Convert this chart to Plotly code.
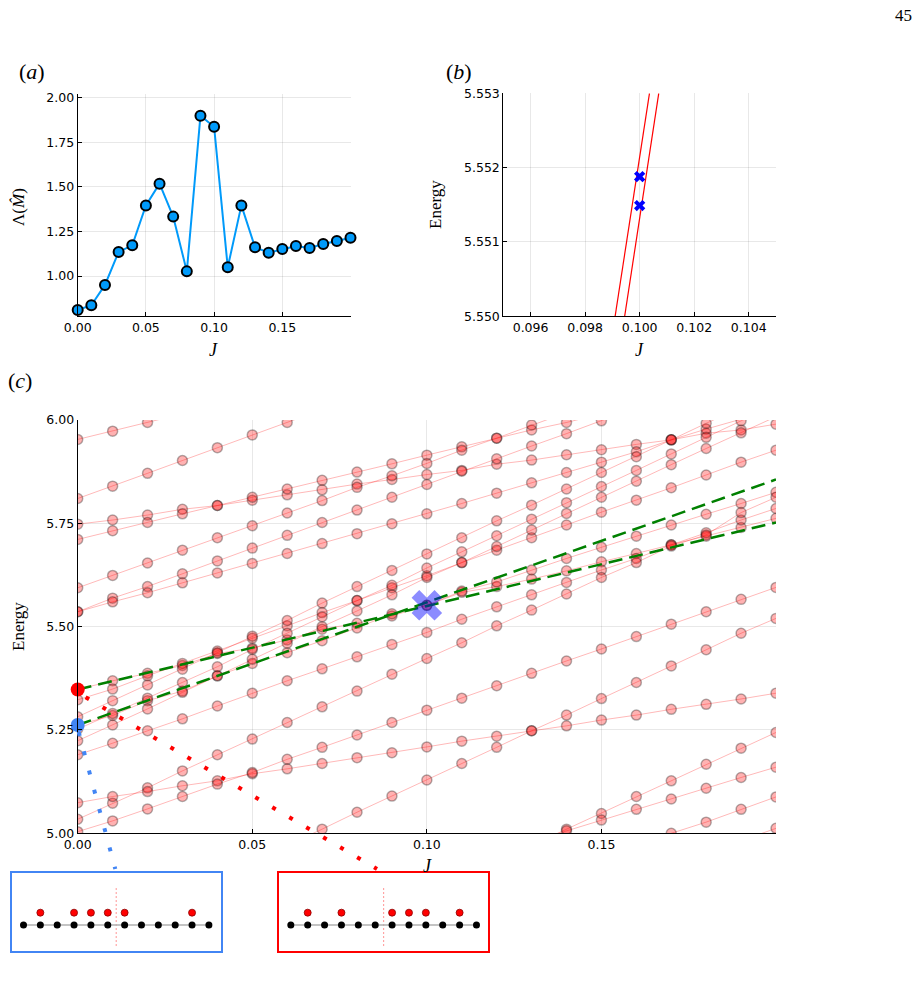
import plotly.graph_objects as go

W, H = 920, 985


def px(x):
    return x / W


def py(y):
    return 1 - y / H


# ---------------- Panel (a) data ----------------
J_a = [0.00, 0.01, 0.02, 0.03, 0.04, 0.05, 0.06, 0.07, 0.08, 0.09, 0.10,
       0.11, 0.12, 0.13, 0.14, 0.15, 0.16, 0.17, 0.18, 0.19, 0.20]
lambda_M = [0.809, 0.836, 0.950, 1.135, 1.172, 1.396, 1.518, 1.333, 1.026, 1.899, 1.837,
            1.049, 1.396, 1.161, 1.131, 1.151, 1.168, 1.157, 1.179, 1.196, 1.215]

# ---------------- Panel (b) data ----------------
J_b_line1 = [0.09910, 0.10036]
E_b_line1 = [5.550, 5.553]
J_b_line2 = [0.09945, 0.10070]
E_b_line2 = [5.550, 5.553]
J_b_cross = [0.100, 0.100]
E_b_cross = [5.55188, 5.55149]

# ---------------- Panel (c) data ----------------
J_c = [0.00, 0.01, 0.02, 0.03, 0.04, 0.05, 0.06, 0.07, 0.08, 0.09, 0.10,
       0.11, 0.12, 0.13, 0.14, 0.15, 0.16, 0.17, 0.18, 0.19, 0.20]
N = None
levels = [
    [5.953, 5.973, 5.994, 6.015],
    [5.810, 5.840, 5.871, 5.902, 5.933, 5.964, 5.994, 6.025],
    [5.748, 5.758, 5.770, 5.784, 5.793, 5.806, 5.819, 5.831, 5.845, 5.856, 5.868,
     5.878, 5.893, 5.903, 5.916, 5.928, 5.941, 5.952, 5.968, 5.976, 5.990],
    [5.711, 5.732, 5.752, 5.773, 5.793, 5.813, 5.833, 5.854, 5.874, 5.894, 5.915,
     5.935, 5.956, 5.976, 5.994, 6.015],
    [5.594, 5.624, 5.654, 5.685, 5.715, 5.744, 5.775, 5.805, 5.837, 5.865, 5.895,
     5.927, 5.956, 5.988, 6.018],
    [5.536, 5.569, 5.597, 5.628, 5.659, 5.690, 5.721, 5.752, 5.782, 5.813, 5.844,
     5.876, 5.906, 5.937, 5.967, 5.998, 6.030],
    [5.536, 5.560, 5.582, 5.606, 5.630, 5.653, 5.677, 5.701, 5.725, 5.749, 5.773,
     5.798, 5.823, 5.848, 5.873, 5.898, 5.923, 5.952, 5.978, 6.002],
    [5.348, 5.369, 5.387, 5.406, 5.435, 5.448, 5.468, 5.494, 5.508, 5.526, 5.5515,
     5.583, 5.597, 5.615, 5.635, 5.657, 5.677, 5.698, 5.719, 5.740, 5.762],
    [5.262, 5.285, 5.321, 5.344, 5.381, 5.411, 5.437, 5.466, 5.497, 5.531, 5.5519,
     5.586, 5.608, 5.637, 5.665, 5.692, 5.719, 5.746, 5.772, 5.798, 5.825],
    [5.323, 5.349, 5.381, 5.411, 5.441, 5.472, 5.502, 5.534, 5.563, 5.594, 5.623,
     5.655, 5.685, 5.715, 5.746, 5.777, 5.806, 5.836, 5.867, 5.898, 5.927],
    [5.224, 5.262, 5.301, 5.341, 5.381, 5.421, 5.460, 5.500, 5.538, 5.577, 5.619,
     5.655, 5.694, 5.734, 5.774, 5.813, 5.852, 5.892, 5.931, 5.969, 6.008],
    [5.252, 5.290, 5.327, 5.365, 5.403, 5.445, 5.484, 5.524, 5.563, 5.600, 5.642,
     5.681, 5.720, 5.760, 5.800, 5.839, 5.878, 5.918, 5.958, 5.998, 6.038],
    [5.282, 5.321, 5.359, 5.397, 5.437, 5.477, 5.515, 5.557, 5.597, 5.636, 5.676,
     5.715, 5.756, 5.794, 5.833, 5.873, 5.911, 5.952, 5.992, 6.030, 6.070],
    [5.190, 5.218, 5.248, 5.277, 5.308, 5.339, 5.369, 5.398, 5.427, 5.457, 5.486,
     5.518, 5.548, 5.577, 5.607, 5.637, 5.665, 5.698, 5.727, 5.758, 5.786],
    [5.034, 5.073, 5.110, 5.151, 5.190, 5.228, 5.268, 5.306, 5.344, 5.385, 5.423,
     5.461, 5.502, 5.540, 5.579, 5.619, 5.655, 5.695, 5.722, 5.776, 5.813],
    [5.074, 5.089, 5.101, 5.115, 5.127, 5.144, 5.156, 5.169, 5.183, 5.195, 5.209,
     5.223, 5.235, 5.248, 5.260, 5.274, 5.286, 5.300, 5.312, 5.325, 5.339],
    [5.004, 5.030, 5.059, 5.089, 5.119, 5.147, 5.179, 5.208, 5.238, 5.268, 5.298,
     5.327, 5.357, 5.387, 5.417, 5.446, 5.476, 5.506, 5.536, 5.566, 5.595],
    [N, N, N, N, N, N, 4.971, 5.010, 5.051, 5.090, 5.129,
     5.169, 5.208, 5.248, 5.286, 5.326, 5.365, 5.405, 5.444, 5.484, 5.520],
    [N, N, N, N, N, N, N, N, N, N, N,
     N, N, 4.971, 5.010, 5.048, 5.089, 5.127, 5.167, 5.206, 5.244],
    [N, N, N, N, N, N, N, N, N, N, N,
     N, N, 4.980, 5.006, 5.032, 5.058, 5.083, 5.109, 5.135, 5.160],
    [N, N, N, N, N, N, N, N, N, N, N,
     N, N, N, N, N, 4.970, 5.000, 5.027, 5.058, 5.088],
    [N, N, N, N, N, N, N, N, N, N, N,
     N, N, N, N, N, N, N, N, 4.982, 5.012],
]

J_dash = [0.0, 0.2]
E_dash_red = [5.348, 5.752]
E_dash_blue = [5.262, 5.856]
E_start_red = 5.348
E_start_blue = 5.262
J_cross = 0.10
E_cross = 5.5517

# inset chains
sites = [0, 1, 2, 3, 4, 5, 6, 7, 8, 9, 10, 11]
occ_blue = [1, 3, 4, 5, 6, 10]
occ_red = [1, 3, 6, 7, 8, 10]

# ---------------- styles ----------------
TICKFONT = dict(family="DejaVu Sans", size=12.5, color="black")
SERIF = "Liberation Serif"
GRID = "rgba(0,0,0,0.09)"
BLUE_A = "#009AFA"
BLUE_ANN = "#4285F4"


def ax(domain, rng, **kw):
    d = dict(domain=domain, range=rng, showline=True, linecolor="black", linewidth=1,
             ticks="inside", ticklen=4, tickcolor="black", showgrid=True, gridcolor=GRID,
             gridwidth=1, zeroline=False, tickfont=TICKFONT, automargin=False, mirror=False)
    d.update(kw)
    return d


fig = go.Figure()

# Panel (a)
fig.add_trace(go.Scatter(x=J_a, y=lambda_M, mode="lines+markers", xaxis="x", yaxis="y",
                         line=dict(color=BLUE_A, width=2),
                         marker=dict(size=10, color=BLUE_A, line=dict(color="black", width=2)),
                         cliponaxis=False, showlegend=False))

# Panel (b)
for jx, ey in ((J_b_line1, E_b_line1), (J_b_line2, E_b_line2)):
    fig.add_trace(go.Scatter(x=jx, y=ey, mode="lines", xaxis="x2", yaxis="y2",
                             line=dict(color="red", width=1.2), showlegend=False))
fig.add_trace(go.Scatter(x=J_b_cross, y=E_b_cross, mode="markers", xaxis="x2", yaxis="y2",
                         marker=dict(symbol="x", size=10, color="blue", line=dict(width=0)),
                         showlegend=False))

# Panel (c)
for lev in levels:
    fig.add_trace(go.Scatter(x=J_c[:len(lev)], y=lev, mode="lines+markers", xaxis="x3", yaxis="y3",
                             line=dict(color="rgba(255,0,0,0.28)", width=1),
                             marker=dict(size=10, color="rgba(255,0,0,0.3)",
                                         line=dict(color="rgba(0,0,0,0.3)", width=1.5)),
                             connectgaps=False, showlegend=False))
for ey in (E_dash_red, E_dash_blue):
    fig.add_trace(go.Scatter(x=J_dash, y=ey, mode="lines", xaxis="x3", yaxis="y3",
                             line=dict(color="green", width=2.5, dash="14px,7px"),
                             showlegend=False))
fig.add_trace(go.Scatter(x=[0.0], y=[E_start_red], mode="markers", xaxis="x3", yaxis="y3",
                         marker=dict(size=14, color="red", line=dict(width=0)),
                         cliponaxis=False, showlegend=False))
fig.add_trace(go.Scatter(x=[0.0], y=[E_start_blue], mode="markers", xaxis="x3", yaxis="y3",
                         marker=dict(size=14, color=BLUE_ANN, line=dict(width=0)),
                         cliponaxis=False, showlegend=False))
fig.add_trace(go.Scatter(x=[J_cross], y=[E_cross], mode="markers", xaxis="x3", yaxis="y3",
                         marker=dict(symbol="x", size=27, color="rgba(0,0,255,0.45)", line=dict(width=0)),
                         showlegend=False))

# Insets
for xa, ya, occ in (("x4", "y4", occ_blue), ("x5", "y5", occ_red)):
    fig.add_trace(go.Scatter(x=[5.5, 5.5], y=[-1.71, 3.11], mode="lines", xaxis=xa, yaxis=ya,
                             line=dict(color="rgba(255,60,60,0.55)", width=1, dash="2px,2px"),
                             showlegend=False))
    fig.add_trace(go.Scatter(x=sites, y=[0] * len(sites), mode="lines+markers", xaxis=xa, yaxis=ya,
                             line=dict(color="#b0b0b0", width=1.5),
                             marker=dict(size=7, color="black", line=dict(width=0)),
                             showlegend=False))
    fig.add_trace(go.Scatter(x=occ, y=[1] * len(occ), mode="markers", xaxis=xa, yaxis=ya,
                             marker=dict(size=7, color="red", line=dict(color="#8b0000", width=0.8)),
                             showlegend=False))

inset_ax = dict(showline=True, mirror=True, linewidth=1.6, showgrid=False, zeroline=False,
                showticklabels=False, ticks="", automargin=False, fixedrange=True)

fig.update_layout(
    width=W, height=H, margin=dict(l=0, r=0, t=0, b=0),
    template="none", paper_bgcolor="white", plot_bgcolor="white", showlegend=False,
    xaxis=ax([px(77.7), px(350.5)], [0, 0.2], anchor="y",
             tickvals=[0, 0.05, 0.10, 0.15], tickformat=".2f"),
    yaxis=ax([py(316), py(94.3)], [0.7757, 2.019], anchor="x",
             tickvals=[1.0, 1.25, 1.5, 1.75, 2.0], tickformat=".2f"),
    xaxis2=ax([px(503.3), px(776)], [0.095, 0.105], anchor="y2",
              tickvals=[0.096, 0.098, 0.100, 0.102, 0.104], tickformat=".3f"),
    yaxis2=ax([py(316.3), py(93.3)], [5.550, 5.553], anchor="x2",
              tickvals=[5.550, 5.551, 5.552, 5.553], tickformat=".3f"),
    xaxis3=ax([px(77.7), px(776)], [0, 0.2], anchor="y3",
              tickvals=[0, 0.05, 0.10, 0.15], tickformat=".2f"),
    yaxis3=ax([py(833.3), py(420)], [5.0, 6.0], anchor="x3",
              tickvals=[5.0, 5.25, 5.5, 5.75, 6.0], tickformat=".2f"),
    xaxis4=dict(inset_ax, domain=[px(11.7), px(220.7)], range=[-0.7, 11.7], anchor="y4", linecolor=BLUE_ANN),
    yaxis4=dict(inset_ax, domain=[py(950.7), py(872.7)], range=[-2.09, 4.25], anchor="x4", linecolor=BLUE_ANN),
    xaxis5=dict(inset_ax, domain=[px(279), px(488.3)], range=[-0.7, 11.7], anchor="y5", linecolor="red"),
    yaxis5=dict(inset_ax, domain=[py(950.7), py(872.7)], range=[-2.09, 4.25], anchor="x5", linecolor="red"),
)

# dotted connectors (figure pixel coordinates)
fig.add_shape(type="line", xref="paper", yref="paper",
              x0=px(85.6), y0=py(697.2), x1=px(377), y1=py(869),
              line=dict(color="red", width=4, dash="4px,15.7px"))
fig.add_shape(type="line", xref="paper", yref="paper",
              x0=px(78.7), y0=py(732.1), x1=px(115.3), y1=py(869),
              line=dict(color=BLUE_ANN, width=4, dash="4px,15.9px"))


def txt(x, y, s, size, angle=0, family=SERIF):
    fig.add_annotation(x=px(x), y=py(y), xref="paper", yref="paper", text=s, showarrow=False,
                       textangle=angle, font=dict(family=family, size=size, color="black"),
                       xanchor="center", yanchor="middle")


txt(32, 71, "(<i>a</i>)", 22)
txt(459, 71, "(<i>b</i>)", 22)
txt(20, 380, "(<i>c</i>)", 22)
txt(903, 15, "45", 17)
txt(18, 207, "Λ(<i>M̂</i>)", 17, angle=-90)
txt(213, 350, "<i>J</i>", 18)
txt(435, 205, "Energy", 17, angle=-90)
txt(639, 350, "<i>J</i>", 18)
txt(18, 627, "Energy", 17, angle=-90)
txt(427, 866, "<i>J</i>", 18)

fig.write_html("out.html")
